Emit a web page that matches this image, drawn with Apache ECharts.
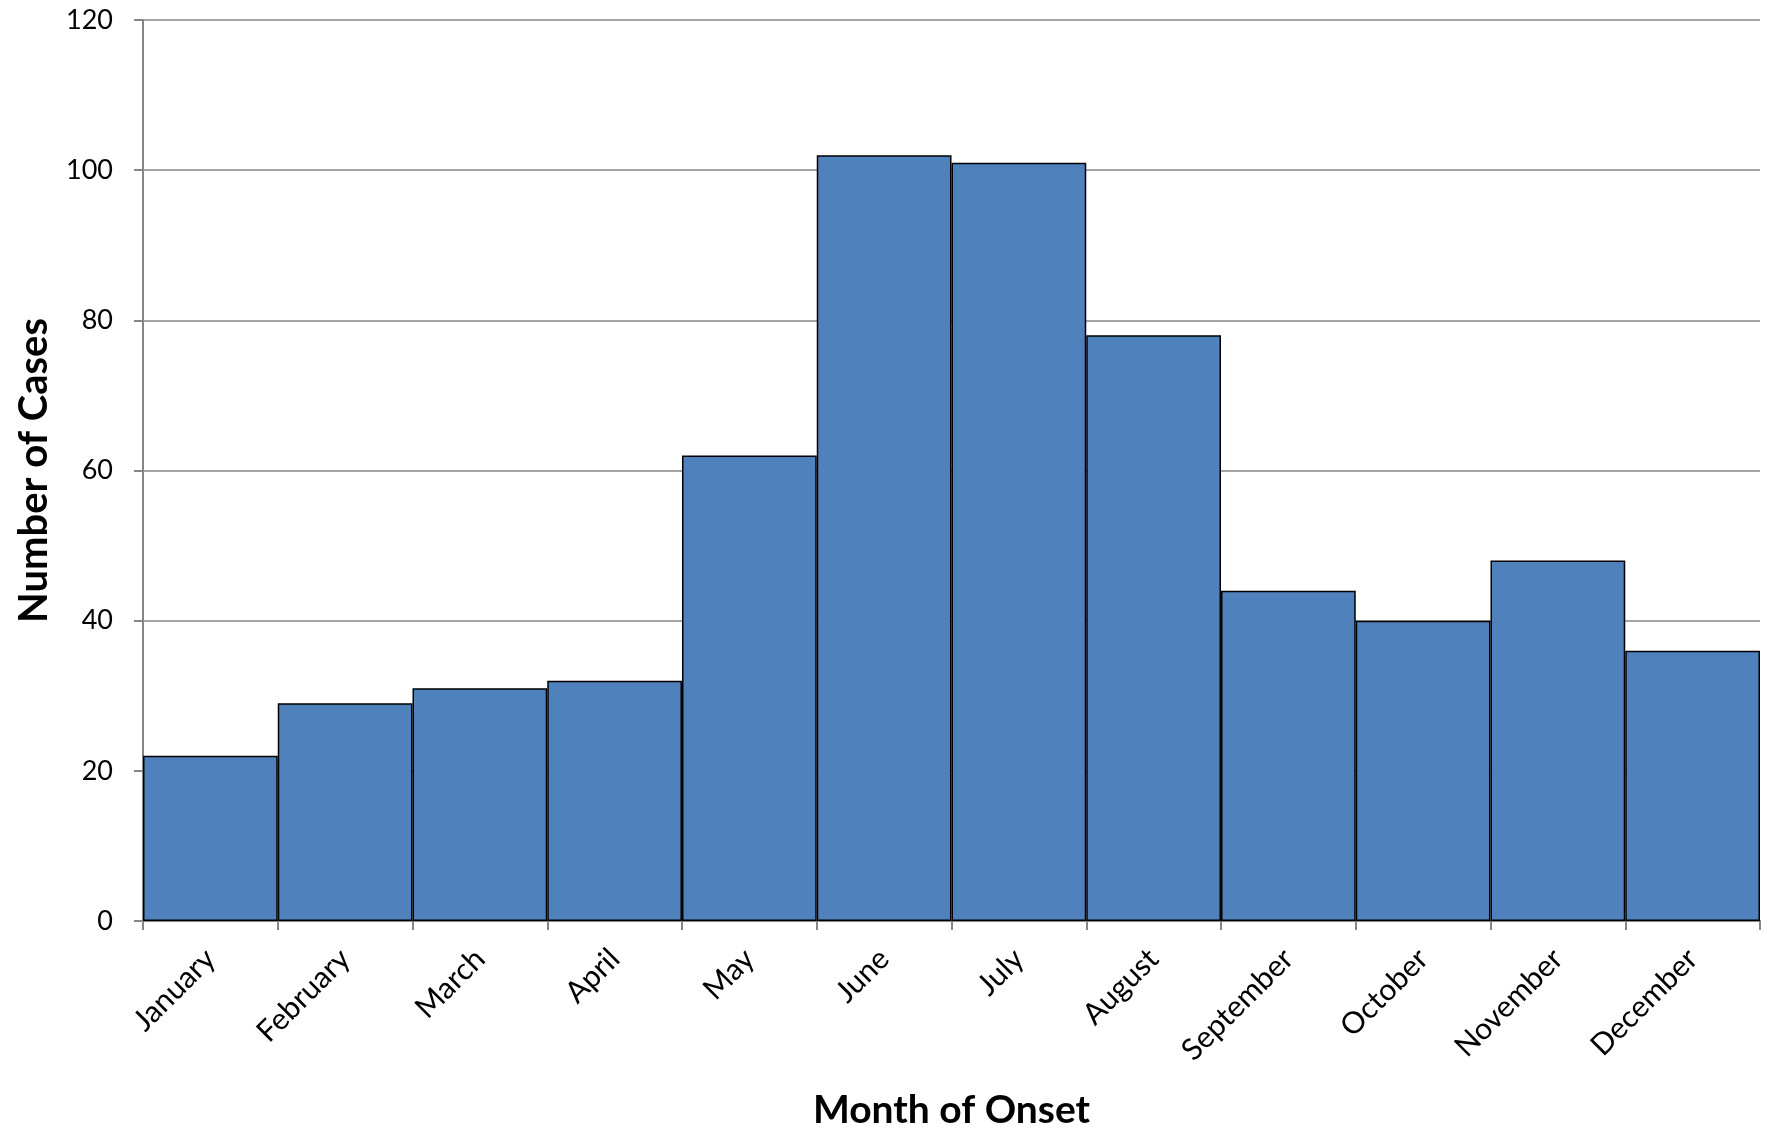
<!DOCTYPE html>
<html>
<head>
<meta charset="utf-8">
<script src="https://cdn.jsdelivr.net/npm/echarts@6/dist/echarts.min.js"></script>
<style>
html,body{margin:0;padding:0;background:#fff;}
#chart{width:1767px;height:1131px;}
</style>
</head>
<body>
<div id="chart"></div>
<script>
const months = ["January","February","March","April","May","June","July","August","September","October","November","December"];
const cases = [22, 29, 31, 32, 62, 102, 101, 78, 44, 40, 48, 36];
const yTicks = [0, 20, 40, 60, 80, 100, 120];

const FONT = "Lato, 'Open Sans', 'Noto Sans', sans-serif";
const chart = echarts.init(document.getElementById('chart'), null, {renderer: 'canvas'});
chart.setOption({
  animation: false,
  backgroundColor: '#ffffff',
  grid: {left: 143, right: 7, top: 20, bottom: 210, containLabel: false, outerBoundsMode: 'none'},
  xAxis: {
    type: 'category',
    data: months,
    boundaryGap: true,
    name: 'Month of Onset',
    nameLocation: 'middle',
    nameGap: 170,
    nameTextStyle: {fontFamily: FONT, fontSize: 39, fontWeight: 'bold', color: '#000'},
    axisLine: {show: true, lineStyle: {color: '#868686', width: 2}},
    axisTick: {show: true, length: 9, lineStyle: {color: '#868686', width: 2}},
    axisLabel: {rotate: 45, margin: 33, fontFamily: FONT, fontSize: 30, color: '#000', interval: 0},
    splitLine: {show: false}
  },
  yAxis: {
    type: 'value',
    min: yTicks[0],
    max: yTicks[yTicks.length - 1],
    interval: yTicks[1] - yTicks[0],
    name: 'Number of Cases',
    nameLocation: 'middle',
    nameGap: 89,
    nameRotate: 90,
    nameTextStyle: {fontFamily: FONT, fontSize: 40, fontWeight: 'bold', color: '#000'},
    axisLine: {show: true, lineStyle: {color: '#868686', width: 2}},
    axisTick: {show: true, length: 9, lineStyle: {color: '#868686', width: 2}},
    axisLabel: {margin: 30, fontFamily: FONT, fontSize: 27, color: '#000'},
    splitLine: {show: true, lineStyle: {color: '#868686', width: 1.5}}
  },
  series: [{
    type: 'bar',
    data: cases,
    barCategoryGap: '0%',
    itemStyle: {color: '#4F81BD', borderColor: '#000', borderWidth: 1.5}
  }]
});
</script>
</body>
</html>
